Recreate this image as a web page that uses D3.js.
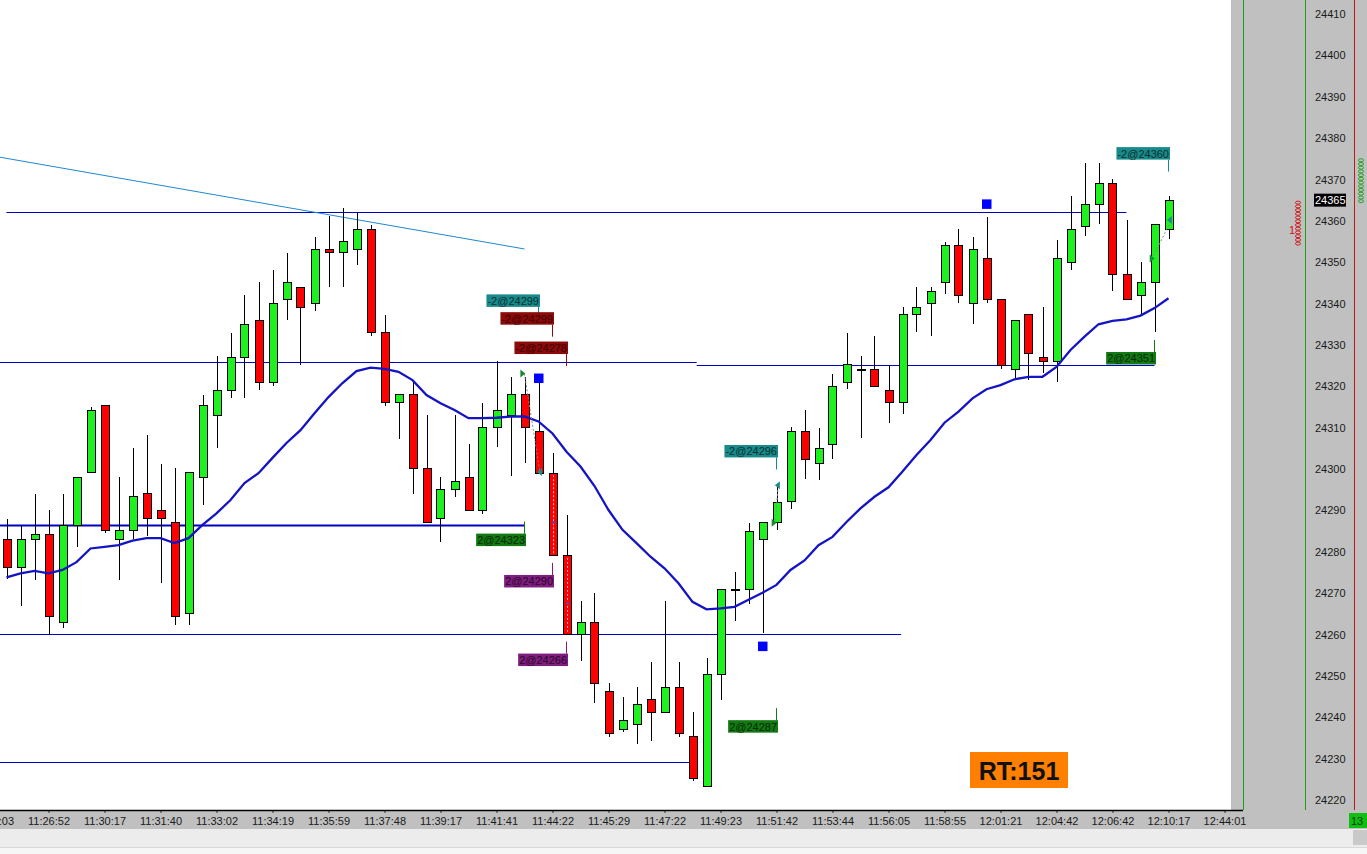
<!DOCTYPE html>
<html>
<head>
<meta charset="utf-8">
<script src="https://cdn.jsdelivr.net/npm/d3@7"></script>
<style>
  body { margin: 0; background: #fff; overflow: hidden; }
  text { font-family: "Liberation Sans", Arial, sans-serif; }
</style>
</head>
<body>
<div id="chart"></div>
<script>
// bars, one per index (left to right)
var opens = [24283, 24276.25, 24283, 24284.25, 24263, 24286.25, 24299.25, 24315.25, 24283, 24285.25,
  24294, 24290, 24287, 24265, 24298, 24313, 24319, 24327, 24336, 24321,
  24341, 24344, 24340, 24353, 24352.25, 24353, 24358, 24333, 24316, 24318,
  24300.25, 24288, 24295, 24298, 24290, 24310, 24313, 24318, 24309, 24299,
  24279, 24260, 24263, 24246.25, 24237, 24238.25, 24244.25, 24241.25, 24247.25, 24235.25,
  24223.25, 24250.25, 24271, 24271, 24283, 24287, 24292.25, 24309, 24301.25, 24306,
  24321, 24324, 24324, 24319, 24316, 24337.25, 24340, 24345, 24354, 24340,
  24351, 24341, 24324, 24337.25, 24327, 24326, 24350, 24358.75, 24364, 24369,
  24347, 24342, 24345, 24358];
var highs = [24288, 24286.25, 24294, 24290, 24294, 24298, 24315, 24315.25, 24298, 24305,
  24308.25, 24301.25, 24300.25, 24299.25, 24318, 24327.25, 24333, 24342, 24345.25, 24348,
  24352.25, 24344, 24356, 24361.25, 24363, 24362, 24359, 24337.25, 24318, 24321,
  24313, 24298, 24313, 24306, 24316, 24326, 24322.25, 24322.25, 24321, 24304,
  24289, 24268, 24270, 24248.25, 24245, 24247.25, 24253.25, 24268, 24253.25, 24241.25,
  24254.25, 24271, 24275, 24287, 24287, 24296.5, 24310.25, 24314.25, 24310, 24323,
  24333, 24327.25, 24332.25, 24325.25, 24339.25, 24344, 24344, 24355, 24358, 24356,
  24361, 24341, 24336, 24337.25, 24339.25, 24355.25, 24366, 24374, 24374, 24370,
  24360.25, 24350, 24359, 24366];
var lows = [24273.5, 24267, 24273.25, 24260, 24261.5, 24281.25, 24299.25, 24284.5, 24273.25, 24283,
  24283.75, 24272.5, 24262.25, 24262.25, 24291.25, 24305, 24317.25, 24317.25, 24319, 24320,
  24336, 24325.25, 24338.25, 24344, 24344, 24349.25, 24332.25, 24315.25, 24307.25, 24294,
  24287, 24282.25, 24293.25, 24290, 24289.25, 24305.25, 24298.25, 24301.5, 24299, 24279,
  24260, 24253.5, 24243.5, 24235.25, 24236.5, 24233.5, 24234.25, 24241.25, 24235.25, 24224.5,
  24223.25, 24244.25, 24263.25, 24267.5, 24260.25, 24285.25, 24290.25, 24297.5, 24297.25, 24302.5,
  24319.25, 24307.5, 24320, 24311.25, 24313.25, 24333.25, 24332.25, 24342.25, 24340.25, 24335,
  24340.25, 24324.25, 24321.75, 24321.5, 24323.25, 24321, 24348, 24356.25, 24359.25, 24343,
  24341, 24337.5, 24333.25, 24355.5];
var closes = [24276.25, 24283, 24284.25, 24264.25, 24286.25, 24298, 24314.25, 24285.25, 24285.25, 24293.25,
  24288, 24288, 24264.25, 24299.25, 24315.25, 24319, 24327, 24335, 24321, 24340,
  24345, 24339, 24353, 24352.25, 24355, 24358, 24333, 24316, 24318, 24300.25,
  24287, 24295, 24297, 24290, 24310, 24314.25, 24318, 24310, 24299, 24279,
  24260, 24263, 24248.25, 24236, 24239.25, 24243, 24241.25, 24247.25, 24236, 24225.25,
  24250.25, 24271, 24271, 24285, 24287, 24292, 24309, 24302.25, 24305, 24320,
  24325.25, 24324, 24320, 24316, 24337.25, 24339, 24343, 24354, 24342, 24353,
  24341, 24325, 24336, 24328, 24326, 24351, 24358, 24364, 24369, 24347,
  24341, 24345, 24359, 24365];

// moving average, one value per bar
var maValues = [24273.8, 24274.8, 24275.4, 24274.8, 24275.6, 24277.5, 24280.8, 24281.2, 24281.6, 24282.7,
  24283.3, 24283.3, 24282.1, 24283.3, 24286.5, 24289.3, 24292.5, 24296.6, 24299.0, 24302.7,
  24306.3, 24309.4, 24313.5, 24317.4, 24320.8, 24323.7, 24324.5, 24324.2, 24323.5, 24321.5,
  24317.9, 24315.9, 24314.3, 24312.3, 24312.3, 24312.4, 24312.7, 24312.7, 24311.5, 24308.6,
  24304.2, 24300.6, 24295.9, 24290.1, 24285.3, 24282.1, 24278.8, 24276.0, 24272.4, 24267.9,
  24266.1, 24266.3, 24266.7, 24268.4, 24270.1, 24272.0, 24275.6, 24277.9, 24281.6, 24283.6,
  24287.2, 24290.5, 24293.3, 24295.6, 24299.4, 24303.4, 24307.0, 24311.2, 24313.9, 24317.1,
  24319.3, 24320.3, 24321.7, 24322.3, 24322.3, 24324.7, 24328.8, 24332.0, 24335.0, 24335.8,
  24336.2, 24337.1, 24338.9, 24341.3];

// time axis
var timeLabels = ["11:25:03", "11:26:52", "11:30:17", "11:31:40", "11:33:02", "11:34:19", "11:35:59",
  "11:37:48", "11:39:17", "11:41:41", "11:44:22", "11:45:29", "11:47:22", "11:49:23", "11:51:42",
  "11:53:44", "11:56:05", "11:58:55", "12:01:21", "12:04:42", "12:06:42", "12:10:17", "12:44:01"];
var timeLabelBar = [-1, 3, 7, 11, 15, 19, 23, 27, 31, 35, 39, 43, 47, 51, 55, 59, 63, 67, 71, 75, 79, 83, 87];
var priceTicks = d3.range(24220, 24411, 10);
var lastPrice = 24365;

// horizontal levels (price, from bar, to bar)
var levelPrice = [24362.1, 24325.9, 24325.2, 24286.5, 24260.1, 24229.2];
var levelFrom = [0, -0.5, 49.3, -0.5, -0.5, -0.5];
var levelTo = [80, 49.3, 82, 37, 63.9, 49];

// drawn trend line
var trendBars = [-0.5, 37];
var trendPrices = [24375.4, 24353.2];

// blue square markers
var squareBars = [38, 54, 70];
var squarePrices = [24322.0, 24257.2, 24364.1];

// execution labels
var tradeText = ["-2@24299", "-2@24299", "-2@24278", "2@24323", "2@24290", "2@24266", "-2@24296", "2@24287", "-2@24360", "2@24351"];
var tradeBar = [37.93, 38.95, 39.95, 36.95, 38.95, 39.95, 54.93, 54.93, 82.93, 81.93];
var tradePrice = [24336.3, 24332.0, 24324.9, 24287.3, 24277.3, 24258.3, 24299.9, 24242.2, 24371.9, 24331.2];
var tradeKind = ["entry", "exit", "exit", "buy", "buyexit", "buyexit", "entry", "buy", "entry", "buy"];

// small execution arrows
var arrowBars = [36.85, 38.1, 54.8, 55.1, 81.8, 83.1];
var arrowPrices = [24323.1, 24299.3, 24287.0, 24296.1, 24350.9, 24360.2];
var arrowKind = ["buy", "sell", "buy", "sell", "buy", "sell"];

var rtText = "RT:151";
var barCountText = "13";

// ---------------------------------------------------------------
var svgWidth = 1367, svgHeight = 854;
var plotRight = 1231, plotBottom = 810;

var svg = d3.select("#chart").append("svg")
  .attr("width", svgWidth)
  .attr("height", svgHeight)
  .style("display", "block");

var x = d3.scaleLinear().domain([0, 83]).range([6.5, 1168.5]);
var y = d3.scaleLinear().domain([24220, 24410]).range([800, 14]);

// backgrounds
svg.append("rect").attr("width", svgWidth).attr("height", svgHeight).attr("fill", "#fff");
svg.append("rect").attr("x", plotRight).attr("y", 0).attr("width", svgWidth - plotRight).attr("height", plotBottom)
  .attr("fill", "#c0c0c0");
svg.append("rect").attr("x", 0).attr("y", plotBottom).attr("width", svgWidth).attr("height", 19)
  .attr("fill", "#c0c0c0");
svg.append("rect").attr("x", 0).attr("y", 829).attr("width", svgWidth).attr("height", 18).attr("fill", "#ececec");
svg.append("rect").attr("x", 0).attr("y", 847).attr("width", svgWidth).attr("height", 7).attr("fill", "#f6f6f6");
svg.append("line").attr("x1", 0).attr("x2", svgWidth).attr("y1", 847.5).attr("y2", 847.5).attr("stroke", "#d8d8d8");
svg.append("rect").attr("x", 1353).attr("y", 830).attr("width", 14).attr("height", 15).attr("fill", "#c9c9c9");

svg.append("clipPath").attr("id", "plotClip")
  .append("rect").attr("width", plotRight).attr("height", plotBottom);

var plot = svg.append("g").attr("clip-path", "url(#plotClip)");

// levels
levelPrice.forEach(function(p, i) {
  plot.append("line")
    .attr("x1", x(levelFrom[i])).attr("x2", x(levelTo[i]))
    .attr("y1", Math.round(y(p)) + 0.5).attr("y2", Math.round(y(p)) + 0.5)
    .attr("stroke", "#0000c0")
    .attr("stroke-width", i === 3 ? 2 : 1);
});

plot.append("line")
  .attr("x1", x(trendBars[0])).attr("y1", y(trendPrices[0]))
  .attr("x2", x(trendBars[1])).attr("y2", y(trendPrices[1]))
  .attr("stroke", "#1e88d0").attr("stroke-width", 1);

// candles
var bars = d3.range(opens.length);
var candle = plot.append("g").attr("shape-rendering", "crispEdges")
  .selectAll("g").data(bars).enter().append("g");

candle.append("line")
  .attr("x1", d => Math.round(x(d)) + 0.5).attr("x2", d => Math.round(x(d)) + 0.5)
  .attr("y1", d => y(highs[d])).attr("y2", d => y(lows[d]))
  .attr("stroke", "#000");

candle.append("rect")
  .attr("x", d => Math.round(x(d)) - 3.5)
  .attr("width", 8)
  .attr("y", d => y(Math.max(opens[d], closes[d])))
  .attr("height", d => Math.max(1, Math.abs(y(opens[d]) - y(closes[d]))))
  .attr("fill", d => closes[d] > opens[d] ? "#1ff01f" : (closes[d] < opens[d] ? "#ff0000" : "#000"))
  .attr("stroke", "#000");

// moving average
plot.append("path")
  .datum(bars)
  .attr("d", d3.line().x(d => x(d)).y(d => y(maValues[d])))
  .attr("fill", "none")
  .attr("stroke", "#1414c4")
  .attr("stroke-width", 2.3);

// squares
squareBars.forEach(function(b, i) {
  plot.append("rect")
    .attr("x", x(b) - 4.5).attr("y", y(squarePrices[i]) - 4.5)
    .attr("width", 9.5).attr("height", 9.5)
    .attr("fill", "#0000ff");
});

// execution arrows + dashed links
var arrowCol = { buy: "#1a8a3a", sell: "#1a8c8c" };
plot.append("line")
  .attr("x1", x(arrowBars[0]) + 2).attr("y1", y(arrowPrices[0]))
  .attr("x2", x(arrowBars[1])).attr("y2", y(arrowPrices[1]))
  .attr("stroke", "#888").attr("stroke-dasharray", "2,2");
plot.append("line")
  .attr("x1", x(arrowBars[2]) + 2).attr("y1", y(arrowPrices[2]) - 3)
  .attr("x2", x(arrowBars[3])).attr("y2", y(arrowPrices[3]) + 3)
  .attr("stroke", "#888").attr("stroke-dasharray", "2,2");
plot.append("line")
  .attr("x1", x(arrowBars[4]) + 2).attr("y1", y(arrowPrices[4]) - 3)
  .attr("x2", x(arrowBars[5])).attr("y2", y(arrowPrices[5]) + 3)
  .attr("stroke", "#888").attr("stroke-dasharray", "2,2");
// pink exit traces in the falling bars
[39, 40].forEach(function(b) {
  plot.append("line")
    .attr("x1", x(b) + 1).attr("x2", x(b) + 1)
    .attr("y1", y(opens[b]) + 2).attr("y2", y(closes[b]) - 2)
    .attr("stroke", "#ffb0b0").attr("stroke-dasharray", "2,2");
  plot.append("circle")
    .attr("cx", x(b) + 1).attr("cy", (y(opens[b]) + y(closes[b])) / 2 + 8)
    .attr("r", 1.5).attr("fill", "#7a3aa0");
});
arrowBars.forEach(function(b, i) {
  var ax = x(b), ay = y(arrowPrices[i]);
  var pts = arrowKind[i] === "buy"
    ? [[ax - 2, ay - 4], [ax + 3, ay], [ax - 2, ay + 4]]
    : [[ax + 2, ay - 4], [ax - 3, ay], [ax + 2, ay + 4]];
  plot.append("path")
    .attr("d", "M" + pts.join("L") + "Z")
    .attr("fill", arrowCol[arrowKind[i]]);
});

// execution labels
var tradeFill = { entry: "#178b8b", exit: "#8b0a0a", buy: "#137a13", buyexit: "#7e1e7e" };
var tradeInk = { entry: "#082e2e", exit: "#3e0000", buy: "#042804", buyexit: "#2e052e" };
tradeText.forEach(function(t, i) {
  var cx = Math.round(x(tradeBar[i])) + 0.5;
  var ay = y(tradePrice[i]);
  var above = tradeKind[i] === "entry" || tradeKind[i] === "exit";
  var y2 = above ? ay - 12 : ay + 12;
  plot.append("line")
    .attr("x1", cx).attr("x2", cx).attr("y1", ay).attr("y2", y2)
    .attr("stroke", tradeFill[tradeKind[i]]);
  var g = plot.append("g");
  var txt = g.append("text").text(t)
    .attr("font-size", "11px")
    .attr("fill", tradeInk[tradeKind[i]]);
  var w = txt.node().getComputedTextLength() + 2;
  var top = above ? y2 - 12.5 : y2;
  g.insert("rect", "text")
    .attr("x", cx + 1.5 - w).attr("y", top)
    .attr("width", w).attr("height", 12.5)
    .attr("fill", tradeFill[tradeKind[i]]);
  txt.attr("x", cx + 2.5 - w).attr("y", top + 10.5);
});

// RT box
var rt = svg.append("g");
rt.append("rect").attr("x", 970).attr("y", 752).attr("width", 98).attr("height", 36).attr("fill", "#ff8000");
rt.append("text").attr("x", 1019).attr("y", 780).attr("text-anchor", "middle")
  .attr("font-size", "25px").attr("font-weight", "bold").attr("fill", "#111").text(rtText);

// right panel
svg.append("line").attr("x1", 1243.5).attr("x2", 1243.5).attr("y1", 0).attr("y2", plotBottom).attr("stroke", "#19a019");
svg.append("line").attr("x1", 1305.5).attr("x2", 1305.5).attr("y1", 0).attr("y2", plotBottom).attr("stroke", "#19a019");
svg.append("line").attr("x1", 1354.5).attr("x2", 1354.5).attr("y1", 0).attr("y2", plotBottom).attr("stroke", "#c01818");

// small volume glyphs next to the scale
d3.range(24354.5, 24365.1, 0.9).forEach(function(p) {
  svg.append("ellipse").attr("cx", 1298).attr("cy", y(p)).attr("rx", 2.6).attr("ry", 1.5)
    .attr("fill", "none").attr("stroke", "#d01010").attr("stroke-width", 0.9);
});
svg.append("text").attr("x", 1289).attr("y", 234).attr("font-size", "11px").attr("fill", "#d01010").text("1");
d3.range(24364.75, 24375.3, 0.9).forEach(function(p) {
  svg.append("ellipse").attr("cx", 1361).attr("cy", y(p)).attr("rx", 2.6).attr("ry", 1.5)
    .attr("fill", "none").attr("stroke", "#18a018").attr("stroke-width", 0.9);
});

// price axis
var yAxis = svg.append("g")
  .attr("transform", "translate(1315,0)")
  .call(d3.axisRight(y).tickValues(priceTicks).tickFormat(d3.format("d")).tickSize(0).tickPadding(0));
yAxis.select(".domain").remove();
yAxis.selectAll("text").attr("font-size", "11px").attr("fill", "#1a1a1a").attr("font-family", "Liberation Sans, Arial, sans-serif");

var lp = svg.append("g");
lp.append("rect").attr("x", 1314).attr("y", y(lastPrice) - 6.5).attr("width", 32).attr("height", 13).attr("fill", "#000");
lp.append("text").attr("x", 1315).attr("y", y(lastPrice) + 4).attr("font-size", "11px").attr("fill", "#fff").text(lastPrice);

// time axis
var xAxis = svg.append("g")
  .attr("transform", "translate(0," + plotBottom + ")")
  .call(d3.axisBottom(x).tickValues(timeLabelBar)
    .tickFormat(function(d, i) { return timeLabels[i]; })
    .tickSize(3).tickPadding(4));
xAxis.select(".domain").remove();
xAxis.selectAll("text").attr("font-size", "11px").attr("fill", "#1a1a1a").attr("font-family", "Liberation Sans, Arial, sans-serif");
xAxis.selectAll("line").attr("stroke", "#333");

svg.append("line").attr("x1", 0).attr("x2", 1243).attr("y1", plotBottom + 0.5).attr("y2", plotBottom + 0.5)
  .attr("stroke", "#000").attr("stroke-width", 1.5);

svg.append("rect").attr("x", 1349).attr("y", 813).attr("width", 18).attr("height", 15).attr("fill", "#10c010");
svg.append("text").attr("x", 1351).attr("y", 825).attr("font-size", "11px").attr("fill", "#083808").text(barCountText);
</script>
</body>
</html>
